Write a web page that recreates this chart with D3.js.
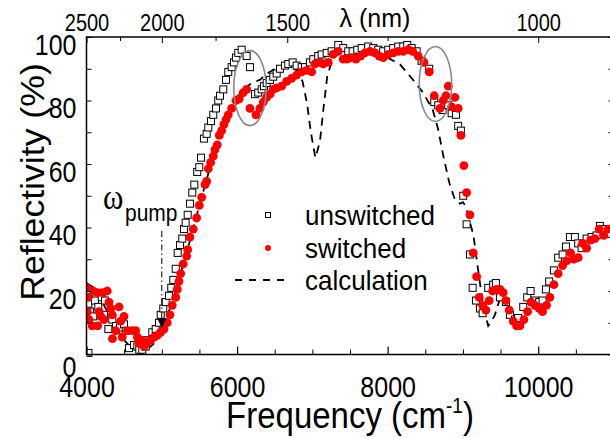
<!DOCTYPE html>
<html>
<head>
<meta charset="utf-8">
<script src="https://cdn.jsdelivr.net/npm/d3@7.9.0/dist/d3.min.js"></script>
<style>
  html, body { margin: 0; padding: 0; background: #fff; }
  svg { display: block; font-family: "Liberation Sans", Arial, sans-serif; }
</style>
</head>
<body>
<svg id="chart" width="610" height="438"></svg>
<script>
// reflectivity (%) vs frequency (cm-1)
const unswitched = [[4025,0.5],[4024,16],[4033,19],[4046,13.5],[4090,12],[4113,17],[4157,15],[4202,18],[4232,12.5],[4246,17],[4290,8],[4343,11],[4392,9],[4445,8.5],[4498,9.5],[4521,7.5],[4564,2],[4631,3],[4675,2.5],[4701,1.5],[4741,1.5],[4786,2.5],[4803,4.5],[4830,4],[4874,7],[4919,8],[4963,10],[4985,12.5],[5020,14.5],[5052,16.5],[5096,18.5],[5126,21],[5153,23.5],[5185,27],[5211,32],[5242,34.5],[5272,36.5],[5295,39.5],[5317,41.5],[5344,44],[5374,47.5],[5405,51],[5432,53.5],[5471,57.5],[5498,59],[5521,62],[5560,68],[5596,69.5],[5618,71.5],[5653,73.5],[5684,75.5],[5720,77.5],[5750,80],[5773,81.5],[5817,83.5],[5853,86.5],[5883,89],[5928,90.5],[5959,92],[5985,93.5],[6016,95],[6061,96],[6127,94],[6171,90.5],[6238,82],[6281,82.5],[6327,83.5],[6357,84.5],[6393,85.5],[6437,86.5],[6481,87.5],[6526,88.5],[6570,90],[6636,91],[6680,91.5],[6738,92],[6791,91],[6858,90.5],[6902,90.5],[6968,92],[7012,93],[7078,94],[7123,94.5],[7190,95],[7256,95.5],[7344,97.5],[7410,96.5],[7477,95.5],[7535,95.5],[7596,96],[7655,96.5],[7742,97],[7809,96.5],[7875,96],[7941,95.5],[8008,96],[8074,96.5],[8141,97],[8207,97],[8260,97.5],[8319,96.5],[8385,95.5],[8451,92.5],[8552,90],[8619,79.5],[8672,78.5],[8730,77],[8805,78.5],[8850,76],[8907,75.5],[8937,72],[8973,70.5],[9004,50],[9049,41],[9093,31.5],[9129,21],[9173,17],[9226,14.5],[9262,13],[9336,21],[9402,22],[9438,22.5],[9491,18],[9571,16.5],[9624,12.5],[9690,11],[9734,11.5],[9801,15],[9854,18],[9899,20],[9956,17],[10013,16.5],[10058,17],[10102,20.5],[10146,23],[10208,26.5],[10265,30.5],[10324,31.5],[10368,34],[10421,37],[10487,37],[10531,35],[10576,33.5],[10643,36.5],[10709,37],[10775,37.5],[10819,40.5],[10886,39.5],[10930,38]];

const switched = [[4005,21],[4011,13.5],[4024,18],[4033,11],[4077,9],[4090,20],[4143,19.5],[4148,9],[4166,13.5],[4189,12],[4210,19.5],[4232,11],[4276,20],[4299,16.5],[4321,14.5],[4343,12.5],[4345,5],[4388,7.5],[4432,15],[4454,10.5],[4475,5.5],[4498,12],[4542,7.5],[4608,7.5],[4653,7.5],[4675,5.5],[4697,3.5],[4741,4.5],[4764,2.5],[4807,3.5],[4853,4.5],[4896,5.5],[4940,6],[4985,7],[5029,8],[5073,10],[5109,12.5],[5139,15.5],[5185,18],[5206,20.5],[5228,23],[5251,25.5],[5285,28.5],[5331,31],[5344,33],[5374,37],[5418,39.5],[5463,43],[5498,47],[5530,49.5],[5574,53.5],[5596,54.5],[5618,58.5],[5649,60.5],[5684,62.5],[5706,64.5],[5737,66],[5764,69],[5795,70.5],[5826,72.5],[5853,74],[5883,75.5],[5928,77.5],[5985,80],[6029,80.5],[6082,82.5],[6127,83.5],[6171,77.5],[6251,75.5],[6304,77.5],[6348,79.5],[6393,81],[6437,82],[6481,83.5],[6526,84],[6592,84.5],[6659,86],[6725,87],[6791,88],[6858,89],[6924,89.5],[6991,89],[7034,91.5],[7092,92],[7145,91.5],[7211,92],[7277,94.5],[7344,95.5],[7410,93],[7463,93],[7522,93.5],[7579,93],[7641,94],[7698,95],[7765,95.5],[7831,95],[7888,94],[7941,93.5],[8008,94.5],[8074,95],[8141,95.5],[8207,95.5],[8273,96],[8332,95.5],[8406,94],[8482,92],[8552,89],[8619,81.5],[8694,77.5],[8738,80],[8774,81.5],[8805,84.5],[8850,78],[8894,81],[8937,77.5],[8973,69],[9013,59.5],[9049,51],[9093,44],[9137,32],[9182,24.5],[9216,18],[9262,15.5],[9305,14],[9349,17],[9394,20],[9447,20.5],[9491,20.5],[9535,19.5],[9571,17],[9615,14],[9668,10.5],[9713,9],[9757,9],[9810,11],[9859,13.5],[9903,16.5],[9956,15.5],[10013,14.5],[10058,13.5],[10111,15.5],[10155,18],[10208,22],[10265,25.5],[10324,28],[10377,29.5],[10430,32],[10474,30],[10531,30.5],[10589,35],[10643,33.5],[10696,36],[10753,36.5],[10810,39.5],[10872,37.5],[10929,39.5]];

const calculation = [[4000,22.5],[4100,21],[4200,17],[4300,12.5],[4400,8],[4500,4.5],[4600,2],[4700,1],[4800,1.5],[4900,3.5],[5000,8],[5100,14],[5200,21],[5300,29.5],[5400,38],[5500,47],[5600,55.5],[5700,63.5],[5800,70.5],[5900,76.5],[6000,81],[6100,84],[6200,85.5],[6300,86.5],[6400,88.5],[6500,90],[6600,90.5],[6700,90.5],[6800,89.5],[6870,86],[6930,79],[6980,70],[7040,62],[7100,67],[7150,78],[7200,88],[7270,93],[7350,95],[7500,95],[7700,95],[7900,94.5],[8000,93.5],[8163,91.4],[8320,87],[8470,82.5],[8600,77],[8670,71],[8740,62.5],[8820,54],[8890,49],[8960,47.5],[9000,48],[9040,46.5],[9090,42],[9140,37.5],[9200,27],[9270,15],[9336,9],[9380,10.5],[9425,12.5],[9490,17.5]];

const freqTicks = [4000, 6000, 8000, 10000];
const reflTicks = [0, 20, 40, 60, 80, 100];
const lambdaTicks = [2500, 2000, 1500, 1000];
const lambdaMinor = [2250, 1750, 1250];
const legendLabels = ["unswitched", "switched", "calculation"];
const circled = [[6171, 83.9], [8635, 85.2]];
const pump = {freq: 5000, from: 38.9, to: 8.3};

const svg = d3.select('#chart');
const x = d3.scaleLinear().domain([4000, 11000]).range([86.5, 613.5]);
const y = d3.scaleLinear().domain([0, 100]).range([354.5, 37]);

// stretch text vertically around its own anchor
function stretch(sel, k) {
    sel.each(function() {
        let t = d3.select(this);
        let tx = +t.attr('x') || 0, ty = +t.attr('y') || 0;
        t.attr('transform', `translate(${tx},${ty}) scale(1,${k}) translate(${-tx},${-ty})`);
    });
}

svg.append('clipPath').attr('id', 'plot')
    .append('rect')
    .attr('x', x(4000)).attr('y', y(100) - 10)
    .attr('width', x(11000) - x(4000)).attr('height', y(0) - y(100) + 20);

const plot = svg.append('g').attr('clip-path', 'url(#plot)');

// calculation
let line = d3.line().x(d => x(d[0])).y(d => y(d[1]));
plot.append('path')
    .attr('d', line(calculation))
    .attr('fill', 'none')
    .attr('stroke', '#000')
    .attr('stroke-width', 1.8)
    .attr('stroke-dasharray', '8,6');

plot.selectAll('.sq').data(unswitched).join('rect')
    .attr('x', d => x(d[0]) - 3.5)
    .attr('y', d => y(d[1]) - 3.5)
    .attr('width', 7).attr('height', 7)
    .attr('fill', '#fff')
    .attr('stroke', '#000')
    .attr('stroke-width', 1);

plot.selectAll('.dot').data(switched).join('circle')
    .attr('cx', d => x(d[0]))
    .attr('cy', d => y(d[1]))
    .attr('r', 4.4)
    .attr('fill', '#ff0000');

// frame
svg.append('rect')
    .attr('x', x(4000)).attr('y', y(100))
    .attr('width', x(11000) - x(4000)).attr('height', y(0) - y(100))
    .attr('fill', 'none').attr('stroke', '#000').attr('stroke-width', 1.5);

// bottom axis
svg.append('g').attr('transform', `translate(0,${y(0)})`)
    .call(d3.axisBottom(x).tickValues(d3.range(4500, 11000, 500).filter(v => v % 2000 !== 0))
        .tickSizeInner(-5).tickSizeOuter(0).tickFormat(''))
    .call(g => g.select('.domain').remove());

let bx = svg.append('g').attr('transform', `translate(0,${y(0)})`)
    .call(d3.axisBottom(x).tickValues(freqTicks).tickSizeInner(-8).tickSizeOuter(0).tickFormat(d3.format('d')))
    .call(g => g.select('.domain').remove());
bx.selectAll('line').attr('stroke-width', 1.2);
bx.selectAll('text')
    .attr('y', 43).attr('dy', null)
    .attr('fill', '#000')
    .style('font-size', '25px')
    .style('font-family', '"Liberation Sans", Arial, sans-serif');
stretch(bx.selectAll('text'), 1.15);

// left axis
let ly = svg.append('g').attr('transform', `translate(${x(4000)},0)`)
    .call(d3.axisLeft(y).tickValues(d3.range(0, 101, 10)).tickSizeInner(-5).tickSizeOuter(0)
        .tickFormat(d => reflTicks.includes(d) ? d : ''))
    .call(g => g.select('.domain').remove());
ly.selectAll('text')
    .attr('x', -10)
    .attr('y', d => d === 0 ? 21.5 : 17)
    .attr('dy', null)
    .attr('fill', '#000')
    .style('font-size', '25px')
    .style('font-family', '"Liberation Sans", Arial, sans-serif');
stretch(ly.selectAll('text'), 1.15);

// right axis
svg.append('g').attr('transform', `translate(${x(11000)},0)`)
    .call(d3.axisRight(y).tickValues(d3.range(0, 101, 10)).tickSizeInner(-5).tickSizeOuter(0).tickFormat(''))
    .call(g => g.select('.domain').remove());

// top axis, wavelength
svg.append('g').attr('transform', `translate(0,${y(100)})`)
    .call(d3.axisTop(x).tickValues(lambdaMinor.map(l => 1e7 / l)).tickSizeInner(-4).tickSizeOuter(0).tickFormat(''))
    .call(g => g.select('.domain').remove());

let tx = svg.append('g').attr('transform', `translate(0,${y(100)})`)
    .call(d3.axisTop(x).tickValues(lambdaTicks.map(l => 1e7 / l)).tickSizeInner(-6).tickSizeOuter(0)
        .tickFormat(v => Math.round(1e7 / v)))
    .call(g => g.select('.domain').remove());
tx.selectAll('text')
    .attr('y', -6).attr('dy', null)
    .attr('fill', '#000')
    .style('font-size', '20px')
    .style('font-family', '"Liberation Sans", Arial, sans-serif');
stretch(tx.selectAll('text'), 1.15);

svg.append('text')
    .attr('x', 375).attr('y', 27)
    .attr('text-anchor', 'middle')
    .style('font-size', '25px')
    .text('λ (nm)');

// axis titles
let xt = svg.append('text')
    .attr('x', 350).attr('y', 428)
    .attr('text-anchor', 'middle')
    .style('font-size', '33px');
xt.append('tspan').text('Frequency (cm');
xt.append('tspan').attr('dy', -13).style('font-size', '19px').text('-1');
xt.append('tspan').attr('dy', 13).text(')');
stretch(xt, 1.12);

svg.append('text')
    .attr('transform', 'translate(44,182) rotate(-90) scale(1.08,1)')
    .attr('text-anchor', 'middle')
    .style('font-size', '33px')
    .text('Reflectivity (%)');

// circled regions
svg.selectAll('.ell').data(circled).join('ellipse')
    .attr('cx', d => x(d[0]))
    .attr('cy', d => y(d[1]))
    .attr('rx', x(4215) - x(4000))
    .attr('ry', y(0) - y(11.8))
    .attr('fill', 'none')
    .attr('stroke', '#888')
    .attr('stroke-width', 1.6);

// pump marker
svg.append('line')
    .attr('x1', x(pump.freq)).attr('x2', x(pump.freq))
    .attr('y1', y(pump.from)).attr('y2', y(pump.to) - 8)
    .attr('stroke', '#000').attr('stroke-width', 1)
    .attr('stroke-dasharray', '6,3,1.5,3');
svg.append('path')
    .attr('d', `M${x(pump.freq) - 4.5},${y(pump.to) - 10}L${x(pump.freq) + 4.5},${y(pump.to) - 10}L${x(pump.freq)},${y(pump.to)}Z`)
    .attr('fill', '#000');

let wp = svg.append('text').attr('x', 103).attr('y', 209);
wp.append('tspan').style('font-family', '"Liberation Serif", "DejaVu Serif", serif').style('font-size', '31px').text('ω');
stretch(wp, 1.15);
let pu = svg.append('text').attr('x', 125).attr('y', 221.5).style('font-size', '21px').text('pump');
stretch(pu, 1.15);

// legend
const lx = 268, lys = [215, 248, 280];
svg.append('rect').attr('x', lx - 2.5).attr('y', lys[0] - 2.5).attr('width', 5).attr('height', 5)
    .attr('fill', '#fff').attr('stroke', '#000').attr('stroke-width', 1);
svg.append('circle').attr('cx', lx).attr('cy', lys[1]).attr('r', 3).attr('fill', '#ff0000');
svg.append('line').attr('x1', 235).attr('x2', 289).attr('y1', lys[2]).attr('y2', lys[2])
    .attr('stroke', '#000').attr('stroke-width', 1.8).attr('stroke-dasharray', '7,7');

legendLabels.forEach((lab, i) => {
    let t = svg.append('text')
        .attr('x', 305).attr('y', lys[i] + 10)
        .style('font-size', '26px')
        .text(lab);
    stretch(t, 1.08);
});
</script>
</body>
</html>
